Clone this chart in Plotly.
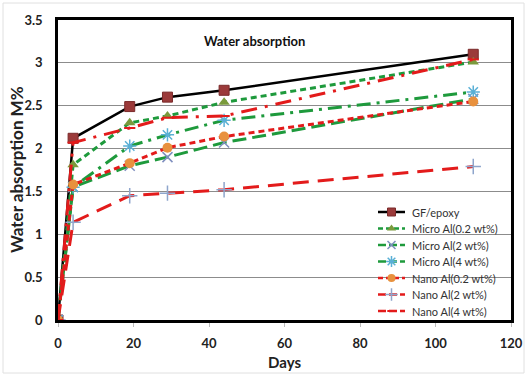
import plotly.graph_objects as go

days = [0, 4, 19, 29, 44, 110]
gf_epoxy = [0, 2.12, 2.49, 2.60, 2.68, 3.10]
micro_02 = [0, 1.81, 2.30, 2.38, 2.54, 3.01]
micro_2 = [0, 1.55, 1.80, 1.90, 2.07, 2.58]
micro_4 = [0, 1.55, 2.03, 2.16, 2.33, 2.66]
nano_02 = [0, 1.58, 1.83, 2.01, 2.14, 2.55]
nano_2 = [0, 1.14, 1.45, 1.48, 1.52, 1.79]
nano_4 = [0, 2.07, 2.24, 2.36, 2.38, 3.04]

names = ["GF/epoxy", "Micro Al(0.2 wt%)", "Micro Al(2 wt%)", "Micro Al(4 wt%)",
         "Nano Al(0.2 wt%)", "Nano Al(2 wt%)", "Nano Al(4 wt%)"]

GREEN = "#1e9a3c"
RED = "#e31b1b"

styles = [
    (gf_epoxy, "black", "solid", 2.5, dict(symbol="square", size=10, color="#9b3a3a", line=dict(color="#7a2a2a", width=1))),
    (micro_02, GREEN, "6px,4px", 3, dict(symbol="triangle-up", size=10, color="#7a9a3c")),
    (micro_2, GREEN, "14px,6px", 3, dict(symbol="x-thin", size=10, line=dict(color="#7f8fbf", width=1.5))),
    (micro_4, GREEN, "14px,6px,3px,6px", 3, dict(symbol="asterisk", size=11, line=dict(color="#5ab0d6", width=1.5))),
    (nano_02, RED, "6px,4px", 3, dict(symbol="circle", size=10, color="#e8913e")),
    (nano_2, RED, "16px,9px", 3, dict(symbol="cross-thin", size=11, line=dict(color="#8ea5cc", width=1.5))),
    (nano_4, RED, "16px,8px,3px,8px", 3, dict(symbol="line-ew", size=8, line=dict(color=RED, width=2))),
]
legend_dash = ["solid", "5px,3px", "8px,3px", "8px,3px", "5px,3px", "8px,3px", "8px,3px"]

fig = go.Figure()
for name, (ys, col, dash, w, mk) in zip(names, styles):
    fig.add_trace(go.Scatter(x=days, y=ys, name=name, mode="lines+markers", showlegend=False,
                             line=dict(color=col, dash=dash, width=w), marker=mk))

# Hand-built legend (compact spacing like the reference), on an overlay 0..1 axis pair
PL, PR, PT, PB = 58, 511, 20, 320
def px_x(p):
    return (p - PL) / (PR - PL)
def px_y(p):
    return (PB - p) / (PB - PT)

annotations = []
for i, (name, (ys, col, dash, w, mk)) in enumerate(zip(names, styles)):
    yy = px_y(212 + i * 16.5)
    fig.add_trace(go.Scatter(x=[px_x(378), px_x(405)], y=[yy, yy], mode="lines", showlegend=False,
                             xaxis="x2", yaxis="y2", hoverinfo="skip",
                             line=dict(color=col, width=2.5, dash=legend_dash[i])))
    mk2 = dict(mk)
    mk2["size"] = mk["size"] - 2
    fig.add_trace(go.Scatter(x=[px_x(391.5)], y=[yy], mode="markers", showlegend=False,
                             xaxis="x2", yaxis="y2", hoverinfo="skip", marker=mk2))
    annotations.append(dict(x=px_x(410), y=yy, xref="x2", yref="y2", text=name, showarrow=False,
                            xanchor="left", yanchor="middle", font=dict(size=11, color="#333")))

annotations.append(dict(x=52, y=3.26, xref="x", yref="y", text="<b>Water absorption</b>",
                        showarrow=False, font=dict(size=13, color="#111")))
# y-axis title placed explicitly so it sits where the reference has it
annotations.append(dict(x=(16 - PL) / (PR - PL), y=0.5, xref="paper", yref="paper",
                        text="<b>Water absorption M%</b>", textangle=-90, showarrow=False,
                        xanchor="center", yanchor="middle", font=dict(size=17, color="#222")))

FONT = "Lato, 'Open Sans', sans-serif"
fig.update_layout(
    width=527, height=376,
    margin=dict(l=PL, r=527 - PR, t=PT, b=376 - PB),
    paper_bgcolor="white", plot_bgcolor="white",
    font=dict(family=FONT, color="#222"),
    showlegend=False,
    xaxis=dict(range=[0, 120], dtick=20, showgrid=False, zeroline=False, automargin=False,
               showline=True, linecolor="black", linewidth=2.5, mirror=True,
               ticks="outside", ticklen=4, tickcolor="#bbb", ticklabelstandoff=6,
               tickfont=dict(size=13, family=FONT, color="#222", weight="bold"),
               title=dict(text="<b>Days</b>", font=dict(size=15), standoff=8)),
    yaxis=dict(range=[0, 3.5], dtick=0.5, showgrid=True, gridcolor="#8c8c8c", gridwidth=1,
               zeroline=False, showline=True, linecolor="black", linewidth=2.5, mirror=True,
               ticks="", ticklabelstandoff=10, automargin=False,
               tickfont=dict(size=13, family=FONT, color="#222", weight="bold")),
    xaxis2=dict(range=[0, 1], overlaying="x", visible=False, fixedrange=True),
    yaxis2=dict(range=[0, 1], overlaying="y", visible=False, fixedrange=True),
    annotations=annotations,
    shapes=[dict(type="rect", xref="paper", yref="paper",
                 x0=(3 - PL) / (PR - PL), x1=(524 - PL) / (PR - PL),
                 y0=(PB - 373) / (PB - PT), y1=(PB - 3) / (PB - PT),
                 line=dict(color="#e0e0e0", width=1), layer="below")],
)

fig.write_html("out.html")
